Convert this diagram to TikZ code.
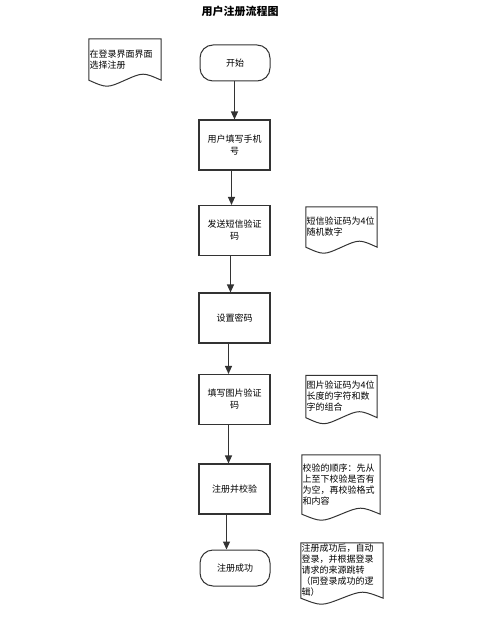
\documentclass[tikz,border=0pt]{standalone}
\usepackage{fontspec}
\setmainfont{Noto Sans CJK SC}
\usetikzlibrary{arrows.meta,calc}
\definecolor{linec}{HTML}{333333}
\tikzset{
  procbox/.style={draw=linec, line width=1.1pt, minimum width=71pt, minimum height=50pt, inner sep=1pt, text width=66pt, align=center, font=\fontsize{9}{12}\selectfont},
  termbox/.style={draw=linec, line width=1pt, rounded corners=13pt, minimum width=70pt, minimum height=36pt, align=center, font=\fontsize{9}{12}\selectfont},
  notebox/.style={inner xsep=0.5pt, inner ysep=0pt, align=left, font=\fontsize{9}{11}\selectfont},
  docline/.style={draw=linec, line width=1pt},
  arr/.style={draw=linec, line width=1.2pt, -{Triangle[length=8pt,width=7pt]}},
}
\newcommand\docoutline[1]{%
  \draw[docline] (#1.south west) -- (#1.north west) -- (#1.north east) -- (#1.south east)
    .. controls ($(#1.south east)!0.5!(#1.south)+(0,-8)$) .. (#1.south)
    .. controls ($(#1.south)!0.5!(#1.south west)+(0,8)$) .. (#1.south west) -- cycle;}
\begin{document}
\begin{tikzpicture}[x=1pt,y=-1pt]
\useasboundingbox (0,0) rectangle (484,620);
\node[font=\fontsize{11}{13}\selectfont\bfseries] (title) at (240,11) {用户注册流程图};

% document notes (invisible boxes, outline drawn separately)
\node[notebox, minimum width=72pt, minimum height=41pt, text width=71pt] (d0) at (125,59.5) {在登录界面界面\\选择注册};
\node[notebox, minimum width=71pt, minimum height=40pt, text width=70pt] (n1) at (341.5,227) {短信验证码为4位\\随机数字};
\node[notebox, minimum width=71pt, minimum height=42pt, text width=70pt] (n2) at (341.5,396.5) {图片验证码为4位\\长度的字符和数\\字的组合};
\node[notebox, minimum width=78pt, minimum height=59pt, text width=77pt] (n3) at (341,484.5) {校验的顺序：先从\\上至下校验是否有\\为空，再校验格式\\和内容};
\node[notebox, minimum width=82pt, minimum height=55pt, text width=81pt] (n4) at (342,570.5) {注册成功后，自动\\登录，并根据登录\\请求的来源跳转\\（同登录成功的逻\\辑）};

\docoutline{d0}
\docoutline{n1}
\docoutline{n2}
\docoutline{n3}
\docoutline{n4}

% main flow
\node[termbox] (t1) at (235,63) {开始};
\node[procbox] (b1) at (234.5,145) {用户填写手机\\号};
\node[procbox] (b2) at (234.5,230.5) {发送短信验证\\码};
\node[procbox] (b3) at (234.5,318) {设置密码};
\node[procbox] (b4) at (234.5,399.5) {填写图片验证\\码};
\node[procbox] (b5) at (234.5,489) {注册并校验};
\node[termbox] (t2) at (235,568) {注册成功};

\draw[arr] ([xshift=-0.5pt]t1.south) -- ([xshift=0pt]b1.north);
\draw[arr] ([xshift=-3pt]b1.south) -- ([xshift=-3pt]b2.north);
\draw[arr] ([xshift=-4pt]b2.south) -- ([xshift=-4pt]b3.north);
\draw[arr] ([xshift=-6pt]b3.south) -- ([xshift=-6pt]b4.north);
\draw[arr] ([xshift=-6pt]b4.south) -- ([xshift=-6pt]b5.north);
\draw[arr] ([xshift=-8pt]b5.south) -- ([xshift=-8.5pt]t2.north);
\end{tikzpicture}
\end{document}
